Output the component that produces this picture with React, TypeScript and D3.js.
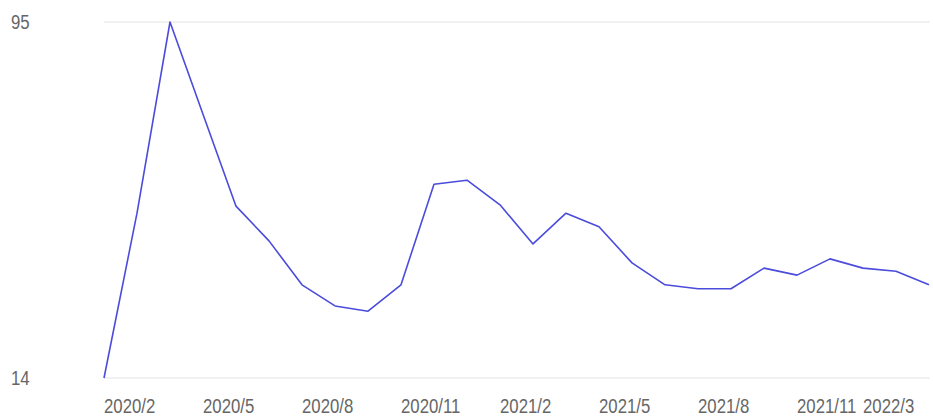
import React, {useEffect, useRef} from 'react';
import * as d3 from 'd3';

// monthly series, 2022/1 and 2022/2 are missing in the source
const months = [
  '2020/2', '2020/3', '2020/4', '2020/5', '2020/6', '2020/7', '2020/8',
  '2020/9', '2020/10', '2020/11', '2020/12', '2021/1', '2021/2', '2021/3',
  '2021/4', '2021/5', '2021/6', '2021/7', '2021/8', '2021/9', '2021/10',
  '2021/11', '2021/12', '2022/3', '2022/4', '2022/5',
];
const values = [
  14, 51.5, 95, 74, 53.1, 45.2, 35.2, 30.4, 29.2, 35.2, 58.1, 59.0, 53.4,
  44.5, 51.5, 48.4, 40.2, 35.2, 34.3, 34.3, 39.0, 37.4, 41.1, 39.0, 38.3,
  35.2,
];
const xTickLabels = [
  '2020/2', '2020/5', '2020/8', '2020/11', '2021/2', '2021/5', '2021/8',
  '2021/11', '2022/3',
];
const yTickValues = [14, 95];

const W = 933;
const H = 417;

const App = () => {
  const ref = useRef<SVGSVGElement>(null);

  useEffect(() => {
    const svg = d3.select(ref.current);
    svg.selectAll('*').remove();

    const x = d3.scalePoint<string>().domain(months).range([104, 929]);
    const y = d3.scaleLinear().domain([14, 95]).range([378, 22]);

    // grid lines at the two ticks
    svg
      .selectAll('line.grid')
      .data(yTickValues)
      .enter()
      .append('line')
      .attr('class', 'grid')
      .attr('x1', 104)
      .attr('x2', 930)
      .attr('y1', d => y(d))
      .attr('y2', d => y(d))
      .attr('stroke', '#ececec')
      .attr('stroke-width', 1.5);

    // y labels
    svg
      .selectAll('text.ylab')
      .data(yTickValues)
      .enter()
      .append('text')
      .attr('class', 'ylab')
      .attr('transform', d => `translate(11, ${y(d)}) scale(0.8, 1)`)
      .attr('dy', '0.35em')
      .attr('font-family', 'Liberation Sans, Arial, sans-serif')
      .attr('font-size', 21)
      .attr('fill', '#666')
      .text(d => d);

    // x labels, left aligned at their point
    svg
      .selectAll('text.xlab')
      .data(xTickLabels)
      .enter()
      .append('text')
      .attr('class', 'xlab')
      .attr('transform', d => `translate(${x(d)}, 413) scale(0.86, 1)`)
      .attr('font-family', 'Liberation Sans, Arial, sans-serif')
      .attr('font-size', 19.5)
      .attr('fill', '#666')
      .text(d => d);

    const line = d3
      .line<number>()
      .x((_, i) => x(months[i]) as number)
      .y(d => y(d));

    svg
      .append('path')
      .datum(values)
      .attr('d', line)
      .attr('fill', 'none')
      .attr('stroke', '#4b4bdc')
      .attr('stroke-width', 1.6)
      .attr('stroke-linejoin', 'round');
  }, []);

  return (
    <svg
      ref={ref}
      width={W}
      height={H}
      style={{position: 'absolute', left: 0, top: 0, background: '#fff'}}
    />
  );
};

export default App;
